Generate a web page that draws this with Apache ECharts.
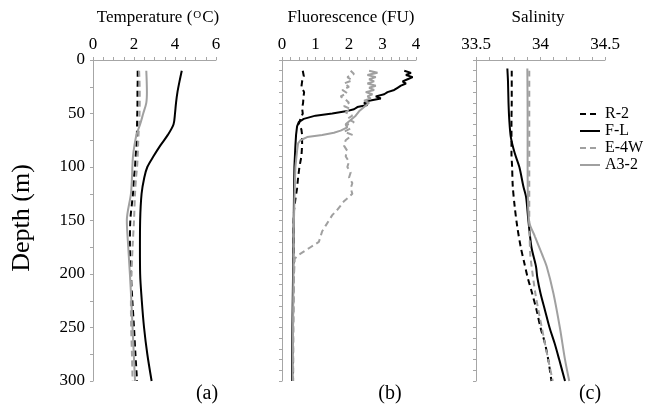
<!DOCTYPE html>
<html>
<head>
<meta charset="utf-8">
<script src="https://cdn.jsdelivr.net/npm/echarts@6/dist/echarts.min.js"></script>
<style>
html,body{margin:0;padding:0;background:#fff;}
#c{width:649px;height:407px;}
</style>
</head>
<body>
<div id="c"></div>
<script>
// ---------- DATA ----------
const seriesNames = ['R-2', 'F-L', 'E-4W', 'A3-2'];

// Temperature (°C) vs depth (m)
const tempDepth = [10, 20, 30, 40, 50, 60, 70, 80, 90, 100, 110, 125, 150, 175, 200, 225, 250, 275, 300];
const tempR2   = [2.18, 2.18, 2.17, 2.17, 2.16, 2.15, 2.14, 2.12, 2.08, 2.05, 2.0, 1.95, 1.82, 1.80, 1.85, 1.92, 2.0, 2.07, 2.15];
const tempFL   = [4.33, 4.22, 4.12, 4.05, 4.0, 3.93, 3.65, 3.28, 2.95, 2.65, 2.5, 2.37, 2.3, 2.29, 2.3, 2.38, 2.49, 2.65, 2.86];
const tempE4W  = [2.25, 2.27, 2.28, 2.28, 2.27, 2.25, 2.22, 2.2, 2.18, 2.15, 2.1, 2.05, 2.0, 1.93, 1.88, 1.85, 1.86, 1.9, 1.93];
const tempA32  = [2.6, 2.62, 2.63, 2.6, 2.45, 2.3, 2.12, 2.02, 1.95, 1.92, 1.9, 1.85, 1.65, 1.72, 1.8, 1.87, 1.93, 1.99, 2.05];

// Fluorescence (FU) vs depth (m)
const fluDepthR2 = [10, 15, 20, 25, 30, 35, 40, 45, 50, 55, 60, 65, 70, 80, 90, 100, 110, 120, 130, 140, 150, 200, 250, 300];
const fluR2      = [0.62, 0.65, 0.6, 0.58, 0.66, 0.64, 0.63, 0.6, 0.62, 0.55, 0.5, 0.58, 0.6, 0.6, 0.58, 0.52, 0.48, 0.45, 0.4, 0.36, 0.35, 0.34, 0.33, 0.33];
const fluDepthFL = [10, 12, 14, 16, 18, 20, 22, 24, 26, 28, 30, 32, 34, 36, 38, 40, 42, 44, 46, 48, 50, 52, 55, 58, 62, 70, 80, 100, 120, 150, 200, 250, 300];
const fluFL      = [3.65, 3.85, 3.7, 3.9, 3.75, 3.6, 3.7, 3.55, 3.45, 3.35, 3.15, 3.05, 2.8, 2.95, 2.6, 2.45, 2.55, 2.25, 2.15, 1.9, 1.5, 1.0, 0.65, 0.5, 0.45, 0.42, 0.4, 0.37, 0.36, 0.35, 0.33, 0.31, 0.3];
const fluDepthE4W = [10, 13, 16, 19, 22, 25, 28, 31, 34, 37, 40, 43, 46, 49, 52, 55, 58, 61, 64, 67, 70, 75, 80, 85, 90, 95, 100, 105, 110, 115, 120, 125, 128, 132, 136, 140, 145, 150, 155, 160, 165, 170, 175, 180, 183, 186, 200, 250, 300];
const fluE4W      = [2.05, 2.15, 1.95, 2.1, 1.85, 2.0, 1.8, 1.95, 1.75, 1.9, 2.0, 1.85, 2.05, 1.9, 2.1, 1.95, 2.15, 1.9, 2.05, 1.85, 2.1, 1.9, 1.85, 1.95, 1.9, 2.0, 1.95, 2.05, 2.0, 2.1, 2.05, 2.1, 2.0, 1.85, 1.75, 1.65, 1.5, 1.4, 1.3, 1.2, 1.15, 1.1, 0.85, 0.6, 0.45, 0.38, 0.36, 0.34, 0.33];
const fluDepthA32 = [10, 12, 14, 16, 18, 20, 22, 24, 26, 28, 30, 32, 34, 36, 38, 40, 44, 48, 52, 56, 60, 63, 66, 68, 70, 72, 75, 78, 85, 100, 130, 160, 200, 250, 300];
const fluA32      = [2.6, 2.85, 2.55, 2.8, 2.6, 2.75, 2.55, 2.8, 2.6, 2.75, 2.5, 2.7, 2.55, 2.65, 2.45, 2.6, 2.45, 2.3, 2.2, 2.05, 1.9, 1.95, 1.75, 1.55, 1.2, 0.75, 0.55, 0.48, 0.45, 0.4, 0.37, 0.35, 0.34, 0.33, 0.32];

// Salinity vs depth (m)
const salDepthR2 = [10, 40, 56, 87, 100, 118, 137, 156, 175, 190, 203, 218, 234, 250, 265, 280, 300];
const salR2      = [33.777, 33.777, 33.775, 33.775, 33.78, 33.785, 33.80, 33.82, 33.847, 33.875, 33.90, 33.935, 33.97, 34.0, 34.035, 34.06, 34.085];
const salDepthFL = [8, 20, 40, 56, 72, 87, 100, 118, 128, 150, 175, 193, 203, 218, 234, 250, 265, 280, 300];
const salFL      = [33.743, 33.748, 33.752, 33.758, 33.77, 33.80, 33.836, 33.867, 33.888, 33.906, 33.93, 33.965, 33.975, 34.0, 34.035, 34.07, 34.11, 34.145, 34.19];
const salDepthE4W = [10, 50, 100, 150, 162, 181, 187, 218, 250, 280, 300];
const salE4W      = [33.913, 33.913, 33.913, 33.913, 33.915, 33.92, 33.925, 33.96, 34.01, 34.06, 34.095];
const salDepthA32 = [8, 50, 100, 150, 165, 181, 193, 218, 250, 280, 300];
const salA32      = [33.898, 33.9, 33.9, 33.91, 33.957, 34.01, 34.048, 34.1, 34.15, 34.19, 34.223];

// Axis ticks
const tempTicks = { min: 0, max: 6, interval: 2 };
const fluTicks  = { min: 0, max: 4, interval: 1 };
const salTicks  = { min: 33.5, max: 34.5, interval: 0.5 };
const depthTicks = { min: 0, max: 300, interval: 50 };

const panelTitles = ['Fluorescence (FU)', 'Salinity'];
const panelLetters = ['(a)', '(b)', '(c)'];
const depthLabel = 'Depth (m)';

// ---------- CHART ----------
const FONT = 'Liberation Serif';
const GREY_AXIS = '#a6a6a6';
const BLACK = '#000000';
const GREY = '#a0a0a0';

function zip(xs, ds) { return xs.map((v, i) => [v, ds[i]]); }

const DASH = [6, 4];
const styles = {
  'R-2':  { color: BLACK, type: DASH },
  'F-L':  { color: BLACK, type: 'solid' },
  'E-4W': { color: GREY,  type: DASH },
  'A3-2': { color: GREY,  type: 'solid' }
};

const grids = [
  { left: 93,  top: 60, width: 123, height: 321 },
  { left: 282, top: 60, width: 134, height: 321 },
  { left: 476, top: 60, width: 129, height: 321 }
];

function xAxisDef(idx, t, minorSplit) {
  return {
    gridIndex: idx, type: 'value', position: 'top',
    min: t.min, max: t.max, interval: t.interval,
    axisLine: { show: true, lineStyle: { color: GREY_AXIS, width: 1 } },
    axisTick: { show: true, length: 3, lineStyle: { color: GREY_AXIS } },
    minorTick: { show: true, splitNumber: minorSplit, length: 3, lineStyle: { color: GREY_AXIS } },
    splitLine: { show: false },
    axisLabel: { color: '#000', fontFamily: FONT, fontSize: 17, margin: 7 }
  };
}
function yAxisDef(idx, showLabels, minorSplit) {
  return {
    gridIndex: idx, type: 'value', inverse: true,
    min: depthTicks.min, max: depthTicks.max, interval: depthTicks.interval,
    axisLine: { show: true, onZero: false, lineStyle: { color: GREY_AXIS, width: 1 } },
    axisTick: { show: true, length: 3, lineStyle: { color: GREY_AXIS } },
    minorTick: { show: true, splitNumber: minorSplit, length: 3, lineStyle: { color: GREY_AXIS } },
    splitLine: { show: false },
    axisLabel: { show: showLabels, color: '#000', fontFamily: FONT, fontSize: 17, margin: 8 }
  };
}

function mk(name, idx, xs, ds, smooth) {
  const s = styles[name];
  return {
    name: name, type: 'line', xAxisIndex: idx, yAxisIndex: idx,
    data: zip(xs, ds), symbol: 'none', showSymbol: false, smooth: smooth,
    lineStyle: { color: s.color, width: 2, type: s.type },
    itemStyle: { color: s.color },
    animation: false
  };
}

const series = [
  mk('R-2', 0, tempR2, tempDepth, 0.3),
  mk('F-L', 0, tempFL, tempDepth, 0.3),
  mk('E-4W', 0, tempE4W, tempDepth, 0.3),
  mk('A3-2', 0, tempA32, tempDepth, 0.3),
  mk('R-2', 1, fluR2, fluDepthR2, false),
  mk('F-L', 1, fluFL, fluDepthFL, false),
  mk('E-4W', 1, fluE4W, fluDepthE4W, false),
  mk('A3-2', 1, fluA32, fluDepthA32, false),
  mk('R-2', 2, salR2, salDepthR2, 0.3),
  mk('F-L', 2, salFL, salDepthFL, 0.3),
  mk('E-4W', 2, salE4W, salDepthE4W, 0.3),
  mk('A3-2', 2, salA32, salDepthA32, 0.3)
];

const txt = (text, x, y, size, extra) => Object.assign({
  type: 'text', x: x, y: y, silent: true,
  style: { text: text, fill: '#000', font: size + 'px "' + FONT + '"', textAlign: 'center', textVerticalAlign: 'middle' }
}, extra || {});

const chart = echarts.init(document.getElementById('c'), null, { renderer: 'canvas' });
chart.setOption({
  animation: false,
  backgroundColor: '#fff',
  grid: grids,
  xAxis: [xAxisDef(0, tempTicks, 4), xAxisDef(1, fluTicks, 4), xAxisDef(2, salTicks, 5)],
  yAxis: [yAxisDef(0, true, 2), yAxisDef(1, false, 5), yAxisDef(2, false, 5)],
  legend: {
    data: seriesNames, orient: 'vertical', left: 574, top: 101,
    itemWidth: 20, itemHeight: 14, itemGap: 1, itemTextGap: 10,
    selectedMode: false,
    itemStyle: { opacity: 0 },
    textStyle: { fontFamily: FONT, fontSize: 16, color: '#000', lineHeight: 16 }
  },
  graphic: [
    {
      type: 'text', x: 158, y: 18, silent: true,
      style: {
        text: 'Temperature ({s|O}C)', fill: '#000', font: '17px "' + FONT + '"',
        textAlign: 'center', textVerticalAlign: 'middle',
        rich: { s: { fontSize: 11, fontFamily: FONT, fill: '#000', padding: [0, 1, 6, 1] } }
      }
    },
    txt(panelTitles[0], 351, 18, 17),
    txt(panelTitles[1], 538, 18, 17),
    txt(panelLetters[0], 207, 394, 20),
    txt(panelLetters[1], 390, 394, 20),
    txt(panelLetters[2], 590, 394, 20),
    txt(depthLabel, 22, 218, 26, { rotation: Math.PI / 2 })
  ],
  series: series
});
</script>
</body>
</html>
